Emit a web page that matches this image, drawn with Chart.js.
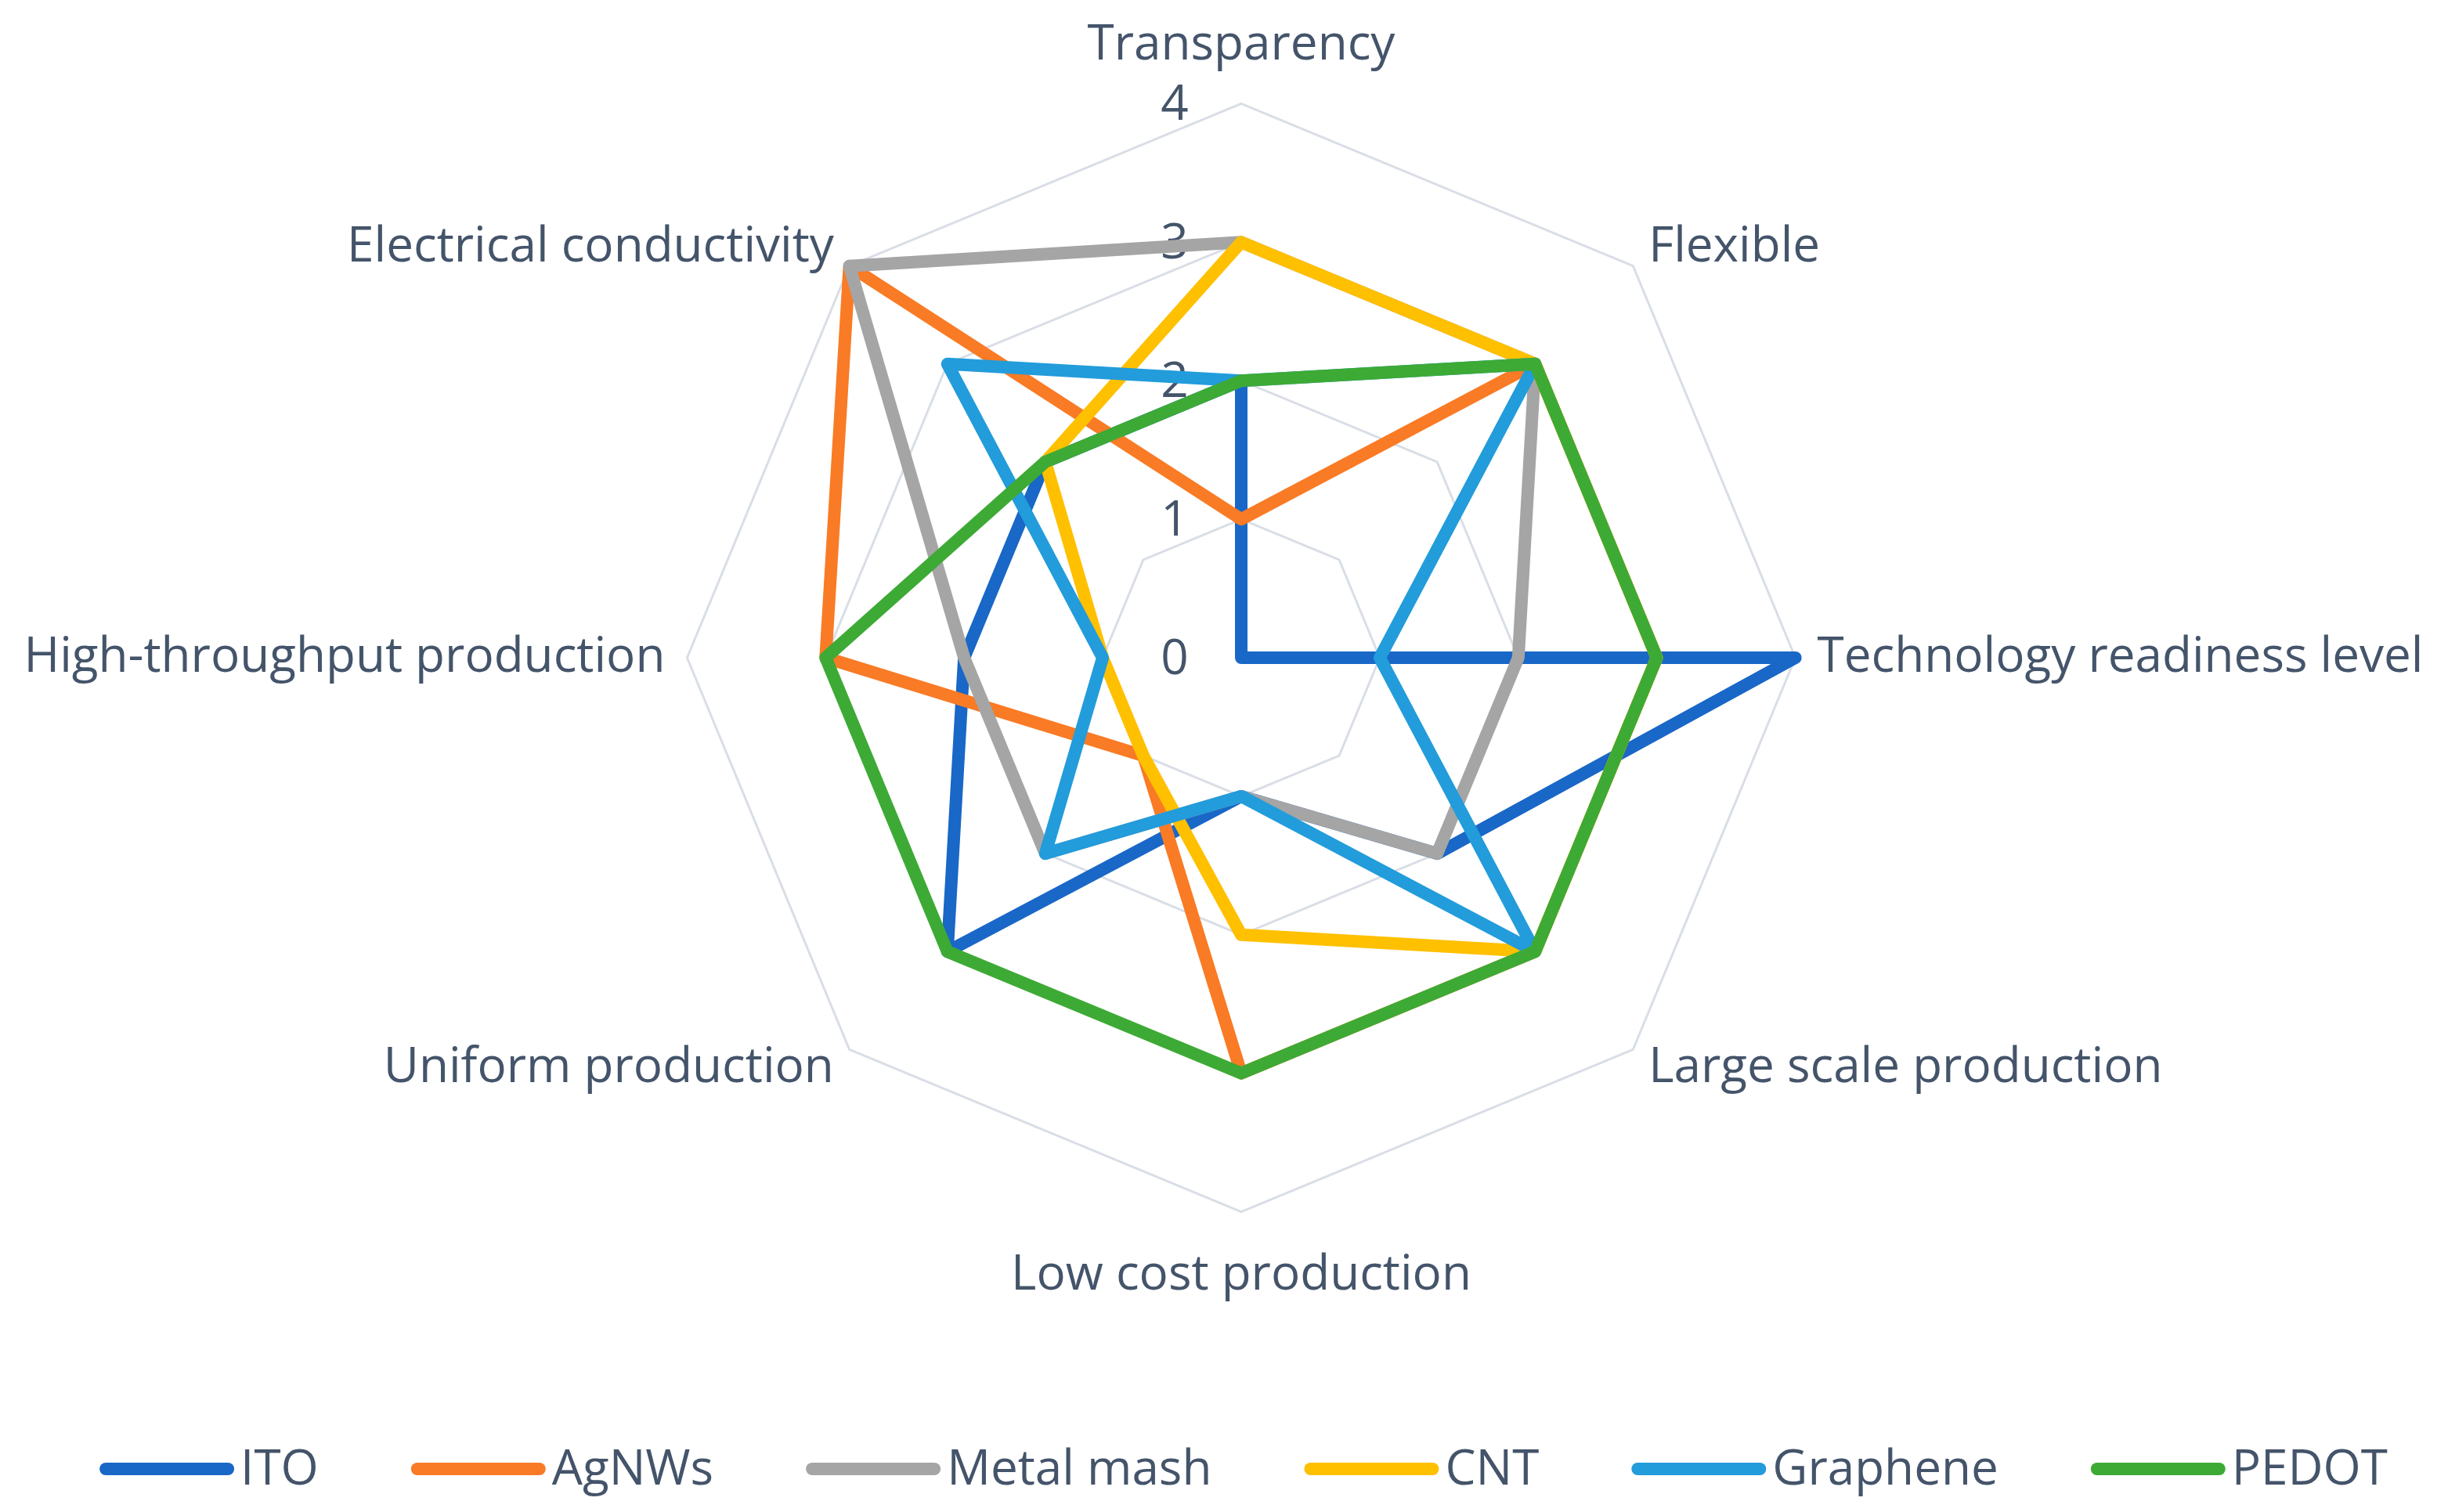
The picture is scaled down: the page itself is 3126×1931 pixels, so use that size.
<!DOCTYPE html>
<html><head><meta charset="utf-8">
<script src="https://cdn.jsdelivr.net/npm/chart.js@4.4.1/dist/chart.umd.min.js"></script>
<style>html,body{margin:0;padding:0;background:#fff}</style>
</head><body>
<canvas id="c" width="3126" height="1931"></canvas>
<script>
const categories = ['Transparency','Flexible','Technology readiness level','Large scale production','Low cost production','Uniform production','High-throughput production','Electrical conductivity'];
const seriesNames = ['ITO','AgNWs','Metal mash','CNT','Graphene','PEDOT'];
const ITO       = [2,0,4,2,1,3,2,2];
const AgNWs     = [1,3,3,3,3,1,3,4];
const MetalMash = [3,3,2,2,1,2,2,4];
const CNT       = [3,3,3,3,2,1,1,2];
const Graphene  = [2,3,1,3,1,2,1,3];
const PEDOT     = [2,3,3,3,3,3,3,2];
const tickValues = [0,1,2,3,4];

const seriesData = [ITO, AgNWs, MetalMash, CNT, Graphene, PEDOT];
const colors = ['#1967C6','#F97B25','#A5A5A5','#FFC000','#229CDB','#3DAA35'];
const FONT = '"Open Sans", "Noto Sans", sans-serif';
const TEXT = '#44546A';

const tickPlugin = {
  id: 'tickLabels',
  beforeDatasetsDraw(chart) {
    const s = chart.scales.r, ctx = chart.ctx;
    ctx.save();
    ctx.font = '62px ' + FONT;
    ctx.fillStyle = TEXT;
    ctx.textAlign = 'center';
    ctx.textBaseline = 'middle';
    tickValues.forEach(v => {
      const d = s.getDistanceFromCenterForValue(v);
      ctx.fillText(String(v), s.xCenter - 85, s.yCenter - d + 3);
    });
    ctx.restore();
  }
};

const legendPlugin = {
  id: 'customLegend',
  afterDraw(chart) {
    const ctx = chart.ctx;
    ctx.save();
    ctx.font = '62px ' + FONT;
    const lineLen = 172, gapText = 8, gapItem = 118;
    const widths = seriesNames.map(n => ctx.measureText(n).width);
    let total = 0;
    widths.forEach((w, i) => { total += lineLen + gapText + w + (i < widths.length - 1 ? gapItem : 0); });
    let x = 1588 - total / 2;
    const y = 1876;
    seriesNames.forEach((n, i) => {
      ctx.strokeStyle = colors[i];
      ctx.lineWidth = 16;
      ctx.lineCap = 'round';
      ctx.beginPath();
      ctx.moveTo(x + 8, y);
      ctx.lineTo(x + lineLen - 8, y);
      ctx.stroke();
      ctx.fillStyle = TEXT;
      ctx.textAlign = 'left';
      ctx.textBaseline = 'middle';
      ctx.fillText(n, x + lineLen + gapText, y + 2);
      x += lineLen + gapText + widths[i] + gapItem;
    });
    ctx.restore();
  }
};

new Chart(document.getElementById('c'), {
  type: 'radar',
  data: {
    labels: categories,
    datasets: seriesNames.map((n, i) => ({
      label: n,
      data: seriesData[i],
      borderColor: colors[i],
      backgroundColor: colors[i],
      fill: false,
      borderWidth: 16,
      borderJoinStyle: 'round',
      borderCapStyle: 'round',
      pointRadius: 0,
      pointHoverRadius: 0,
      order: seriesNames.length - 1 - i
    }))
  },
  options: {
    responsive: false,
    animation: false,
    devicePixelRatio: 1,
    layout: { padding: { top: 18, bottom: 259, left: 0, right: 0 } },
    plugins: { legend: { display: false }, tooltip: { enabled: false } },
    scales: {
      r: {
        min: 0, max: 4,
        ticks: { display: false, stepSize: 1 },
        grid: { color: '#D9DEE6', lineWidth: 3 },
        angleLines: { display: false },
        pointLabels: {
          font: (ctx) => ({ family: FONT, size: 62, lineHeight: (ctx.index % 2 === 1) ? 0.12 : 1.2 }),
          color: TEXT,
          padding: (ctx) => (ctx.index === 0 ? 37 : ctx.index === 4 ? 45 : 28)
        }
      }
    }
  },
  plugins: [tickPlugin, legendPlugin]
});
</script>
</body></html>
